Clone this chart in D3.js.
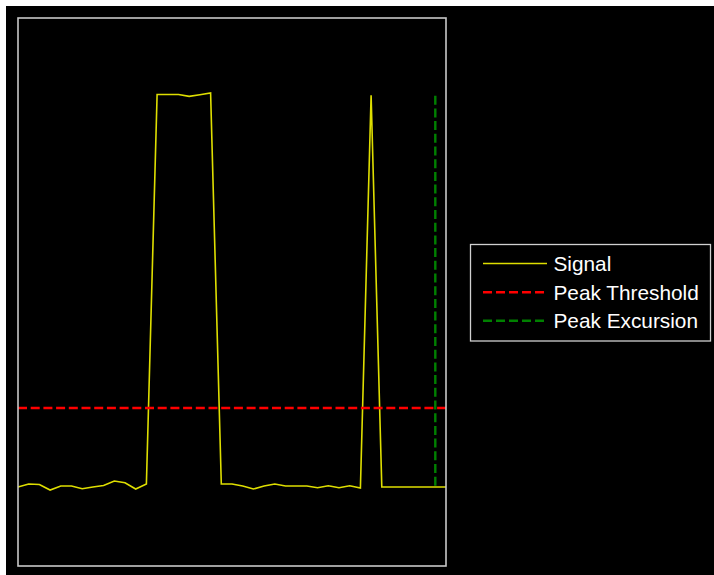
<!DOCTYPE html>
<html>
<head>
<meta charset="utf-8">
<script src="https://cdn.jsdelivr.net/npm/d3@7/dist/d3.min.js"></script>
<style>
  html, body { margin: 0; padding: 0; background: #ffffff; }
  svg { display: block; }
</style>
</head>
<body>
<script>
// ---- data ----
const sampleIndex = d3.range(0, 41);
const signalValues = [
  0.002, 0.0095, 0.0082, -0.0059, 0.0043, 0.0043, -0.0026, 0.0018, 0.0056, 0.0171,
  0.0128, -0.0033, 0.0095, 1.0045, 1.0045, 1.0045, 0.9999, 1.0040, 1.0084, 0.0095,
  0.0095, 0.0043, -0.0033, 0.0043, 0.0095, 0.0043, 0.0043, 0.0043, 0.0, 0.0051,
  0.0, 0.0051, -0.0008, 1.0025, 0.0018, 0.0018, 0.0018, 0.0018, 0.0018, 0.0018, 0.0018
];
const peakThreshold = 0.2036;
const excursionX = 39;
const excursionRange = [0.0018, 1.0015];
const legendLabels = ["Signal", "Peak Threshold", "Peak Excursion"];
const seriesColors = ["#dede00", "#ff0000", "#008000"];

// ---- layout ----
const W = 714, H = 575;
const plot = { left: 18, top: 18, right: 446, bottom: 566 };

const svg = d3.select("body").append("svg").attr("width", W).attr("height", H);
svg.append("rect").attr("x", 6).attr("y", 6).attr("width", W - 6).attr("height", H - 6).attr("fill", "#000");

const x = d3.scaleLinear().domain([0, 40]).range([plot.left, plot.right]);
const y = d3.scaleLinear().domain([-0.2, 1.2]).range([plot.bottom, plot.top]);

const g = svg.append("g");
g.append("rect")
  .attr("x", plot.left).attr("y", plot.top)
  .attr("width", plot.right - plot.left).attr("height", plot.bottom - plot.top)
  .attr("fill", "#000");

// signal
const line = d3.line().x((d, i) => x(sampleIndex[i])).y(d => y(d));
g.append("path")
  .datum(signalValues)
  .attr("d", line)
  .attr("fill", "none")
  .attr("stroke", seriesColors[0])
  .attr("stroke-width", 1.6)
  .attr("stroke-linejoin", "miter");

// threshold
g.append("line")
  .attr("x1", x(0)).attr("x2", x(40))
  .attr("y1", y(peakThreshold)).attr("y2", y(peakThreshold))
  .attr("stroke", seriesColors[1]).attr("stroke-width", 2.4)
  .attr("stroke-dasharray", "9,3.7");

// excursion
g.append("line")
  .attr("x1", x(excursionX)).attr("x2", x(excursionX))
  .attr("y1", y(excursionRange[1])).attr("y2", y(excursionRange[0]))
  .attr("stroke", seriesColors[2]).attr("stroke-width", 2.4)
  .attr("stroke-dasharray", "9,3.7");

// axes box
g.append("rect")
  .attr("x", plot.left).attr("y", plot.top)
  .attr("width", plot.right - plot.left).attr("height", plot.bottom - plot.top)
  .attr("fill", "none").attr("stroke", "#c8c8c8").attr("stroke-width", 1.6);

// legend
const lg = svg.append("g");
lg.append("rect")
  .attr("x", 470.5).attr("y", 244.5).attr("width", 240).attr("height", 96.5)
  .attr("fill", "#000").attr("stroke", "#d0d0d0").attr("stroke-width", 1.3);
const rowY = [263.5, 292.2, 320.8];
legendLabels.forEach((lab, i) => {
  const l = lg.append("line")
    .attr("x1", 483).attr("x2", 547)
    .attr("y1", rowY[i]).attr("y2", rowY[i])
    .attr("stroke", seriesColors[i]);
  if (i === 0) l.attr("stroke-width", 1.5);
  else l.attr("stroke-width", 2.4).attr("stroke-dasharray", "9,4");
  lg.append("text")
    .attr("x", 553.5).attr("y", rowY[i] + 7.4)
    .attr("fill", "#ffffff")
    .attr("font-family", "Liberation Sans, Arial, sans-serif")
    .attr("font-size", 20.8)
    .text(lab);
});
</script>
</body>
</html>
